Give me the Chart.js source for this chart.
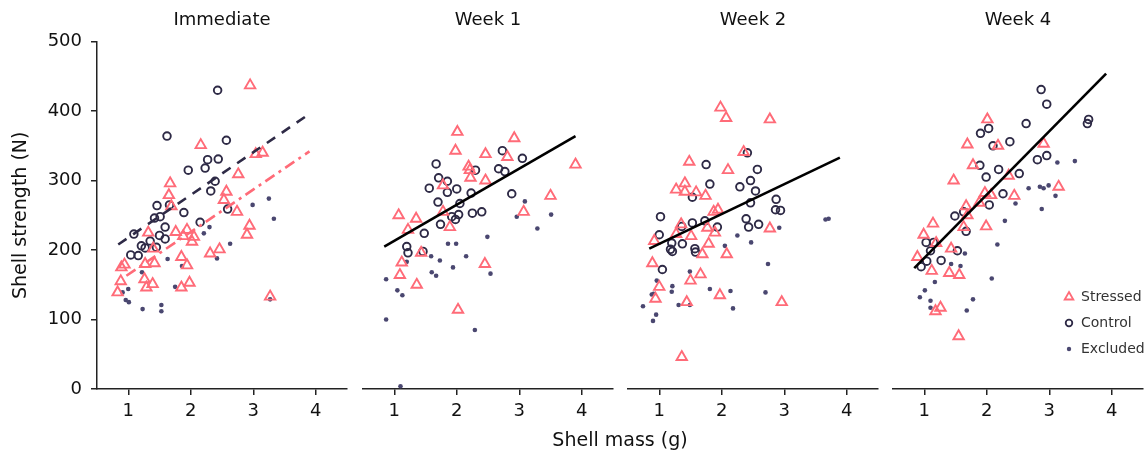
<!DOCTYPE html>
<html>
<head>
<meta charset="utf-8">
<script src="https://cdn.jsdelivr.net/npm/chart.js@4/dist/chart.umd.min.js"></script>
<style>
body{margin:0;background:#fff;width:1147px;height:457px;position:relative;overflow:hidden;font-family:'DejaVu Sans',sans-serif}
canvas{position:absolute;top:0}
#xtitle{position:absolute;left:97px;width:1046px;top:428px;text-align:center;font-size:19px;color:#111}
</style>
</head>
<body>
<canvas id="p1" width="350" height="457" style="left:0px"></canvas>
<canvas id="p2" width="256" height="457" style="left:360px"></canvas>
<canvas id="p3" width="256" height="457" style="left:625px"></canvas>
<canvas id="p4" width="256" height="457" style="left:890px"></canvas>
<div id="xtitle">Shell mass (g)</div>
<script>
// data: [shell mass (g), shell strength (N)]
const panelTitles = ['Immediate', 'Week 1', 'Week 2', 'Week 4'];
const seriesNames = ['Stressed', 'Control', 'Excluded'];
const xTicks = [1, 2, 3, 4];
const yTicks = [0, 100, 200, 300, 400, 500];

const immStressed = [[0.83,139],[0.88,155],[0.89,175],[0.94,179],[1.26,158],[1.27,180],[1.29,146],[1.32,225],[1.39,151],[1.40,202],[1.42,181],[1.65,279],[1.67,296],[1.69,263],[1.76,226],[1.85,190],[1.85,146],[1.88,220],[1.94,229],[1.94,178],[1.98,153],[2.02,212],[2.05,219],[2.16,351],[2.31,195],[2.46,201],[2.53,272],[2.57,284],[2.74,255],[2.76,309],[2.90,222],[2.94,235],[2.95,437],[3.04,338],[3.15,340],[3.27,133]];
const immControl = [[1.04,193],[1.09,223],[1.16,192],[1.21,206],[1.27,203],[1.35,213],[1.42,246],[1.45,204],[1.46,264],[1.50,221],[1.51,248],[1.59,233],[1.59,216],[1.62,364],[1.66,265],[1.89,254],[1.96,315],[2.15,240],[2.23,318],[2.27,330],[2.32,285],[2.39,299],[2.43,430],[2.44,331],[2.57,358],[2.59,259]];
const immExcluded = [[0.91,139],[0.96,128],[1.00,144],[1.01,125],[1.22,168],[1.23,115],[1.53,121],[1.53,112],[1.63,187],[1.75,147],[1.86,177],[2.21,224],[2.30,233],[2.42,188],[2.63,209],[2.99,265],[3.25,274],[3.27,129],[3.33,245]];
const immControlFit = [[0.84,208],[3.90,396]];
const immStressedFit = [[0.97,163],[3.90,342]];

const w1Stressed = [[1.07,250],[1.09,164],[1.12,182],[1.22,229],[1.35,245],[1.36,150],[1.43,196],[1.78,293],[1.78,255],[1.89,233],[1.98,343],[2.01,370],[2.02,114],[2.19,320],[2.21,315],[2.22,304],[2.45,180],[2.46,338],[2.46,300],[2.81,334],[2.92,361],[3.07,255],[3.50,278],[3.90,323]];
const w1Control = [[1.20,205],[1.22,196],[1.46,198],[1.48,224],[1.56,289],[1.67,324],[1.70,269],[1.71,304],[1.74,237],[1.85,299],[1.85,283],[1.92,248],[1.98,244],[2.00,288],[2.03,251],[2.05,267],[2.23,282],[2.25,253],[2.30,315],[2.40,255],[2.67,317],[2.73,343],[2.77,313],[2.88,281],[3.05,332]];
const w1Excluded = [[0.87,158],[0.87,100],[1.05,142],[1.10,4],[1.13,135],[1.20,183],[1.59,191],[1.60,168],[1.67,163],[1.73,185],[1.86,209],[1.94,175],[1.99,209],[2.15,191],[2.29,85],[2.49,219],[2.54,166],[2.96,248],[3.09,270],[3.29,231],[3.51,251]];
const w1Fit = [[0.84,205],[3.90,364]];

const w2Stressed = [[0.89,181],[0.92,213],[0.94,130],[1.00,147],[1.27,287],[1.27,223],[1.35,237],[1.36,46],[1.41,296],[1.41,284],[1.44,125],[1.48,327],[1.50,156],[1.51,220],[1.59,283],[1.66,165],[1.69,194],[1.74,278],[1.77,232],[1.79,209],[1.87,255],[1.89,225],[1.94,258],[1.97,135],[1.98,405],[2.07,390],[2.08,194],[2.10,315],[2.35,341],[2.77,388],[2.77,231],[2.96,125]];
const w2Control = [[1.00,222],[1.02,248],[1.05,172],[1.18,201],[1.20,210],[1.21,198],[1.36,234],[1.37,209],[1.53,276],[1.53,239],[1.57,202],[1.58,197],[1.73,242],[1.75,323],[1.81,295],[1.93,233],[2.29,291],[2.39,245],[2.41,340],[2.43,233],[2.46,300],[2.46,268],[2.54,285],[2.57,316],[2.59,237],[2.86,258],[2.87,273],[2.94,257]];
const w2Excluded = [[0.74,119],[0.88,136],[0.90,98],[0.91,137],[0.95,107],[0.96,156],[1.20,140],[1.21,148],[1.31,121],[1.49,169],[1.49,121],[1.81,144],[2.05,206],[2.14,141],[2.18,116],[2.25,221],[2.47,211],[2.70,139],[2.74,180],[2.92,232],[3.66,244],[3.71,245]];
const w2Fit = [[0.84,202],[3.89,333]];

const w4Stressed = [[0.89,190],[0.99,222],[1.12,170],[1.14,238],[1.18,112],[1.19,210],[1.26,117],[1.40,167],[1.43,202],[1.47,300],[1.55,76],[1.56,164],[1.63,233],[1.67,263],[1.69,250],[1.69,352],[1.78,322],[1.88,268],[1.97,282],[1.99,234],[2.01,388],[2.07,279],[2.18,350],[2.35,307],[2.44,278],[2.91,353],[3.15,291]];
const w4Control = [[0.95,176],[1.03,211],[1.04,184],[1.10,199],[1.15,211],[1.27,185],[1.49,249],[1.53,199],[1.63,255],[1.67,227],[1.89,322],[1.90,368],[1.99,305],[2.03,375],[2.04,265],[2.10,350],[2.19,316],[2.26,281],[2.37,356],[2.52,310],[2.63,382],[2.81,330],[2.87,431],[2.96,410],[2.96,336],[3.61,382],[3.63,388]];
const w4Excluded = [[0.93,132],[1.01,142],[1.10,127],[1.10,117],[1.17,154],[1.43,180],[1.58,177],[1.65,195],[1.68,113],[1.78,129],[2.08,159],[2.17,208],[2.29,242],[2.46,267],[2.67,289],[2.85,291],[2.88,259],[2.91,289],[2.99,293],[3.10,278],[3.13,326],[3.41,328]];
const w4Fit = [[0.84,174],[3.91,454]];

const PINK = '#ff6b78';
const NAVY = '#2e2a46';
const DOT = '#4a4770';
const FONT = "'DejaVu Sans', sans-serif";

const toXY = arr => arr.map(p => ({x: p[0], y: p[1]}));

function pointSets(stressed, control, excluded) {
  return [
    {label: seriesNames[0], data: toXY(stressed), order: 1, pointStyle: 'triangle', pointRadius: 6,
     borderColor: PINK, backgroundColor: 'rgba(255,255,255,0)', pointBorderWidth: 1.9},
    {label: seriesNames[1], data: toXY(control), order: 2, pointStyle: 'circle', pointRadius: 3.8,
     borderColor: NAVY, backgroundColor: 'rgba(255,255,255,0)', pointBorderWidth: 1.9},
    {label: seriesNames[2], data: toXY(excluded), order: 3, pointStyle: 'circle', pointRadius: 2.3,
     borderColor: DOT, backgroundColor: DOT, pointBorderWidth: 0}
  ];
}

function fitLine(pts, color, dash) {
  return {data: toXY(pts), showLine: true, order: 0, pointRadius: 0, borderColor: color,
          borderWidth: 2.6, borderDash: dash || [], fill: false};
}

// legend drawn in the corner of the last panel
const cornerLegend = {
  id: 'cornerLegend',
  afterDraw(chart) {
    const ctx = chart.ctx, a = chart.chartArea;
    const items = [
      {style: 'triangle', r: 5, bw: 1.8, stroke: PINK, fill: 'rgba(0,0,0,0)'},
      {style: 'circle', r: 3.3, bw: 1.8, stroke: NAVY, fill: 'rgba(0,0,0,0)'},
      {style: 'circle', r: 2.2, bw: 0, stroke: DOT, fill: DOT}
    ];
    ctx.save();
    items.forEach((it, i) => {
      const y = a.bottom - 92 + i * 26;
      ctx.strokeStyle = it.stroke; ctx.fillStyle = it.fill; ctx.lineWidth = it.bw;
      Chart.helpers.drawPoint(ctx, {pointStyle: it.style, radius: it.r, borderWidth: it.bw, rotation: 0}, a.right - 74, y);
      ctx.fillStyle = '#333';
      ctx.font = '14px ' + FONT;
      ctx.textBaseline = 'middle';
      ctx.textAlign = 'left';
      ctx.fillText(seriesNames[i], a.right - 62, y);
    });
    ctx.restore();
  }
};

function makePanel(id, title, datasets, first, extraPlugins) {
  new Chart(document.getElementById(id), {
    type: 'scatter',
    data: {datasets: datasets},
    plugins: extraPlugins || [],
    options: {
      responsive: false,
      animation: false,
      events: [],
      layout: {autoPadding: false, padding: {left: first ? 0 : 3, right: 3, top: 0, bottom: 0}},
      plugins: {
        legend: {display: false},
        tooltip: {enabled: false},
        title: {display: true, text: title, fullSize: false, color: '#111',
                font: {family: FONT, size: 18, weight: 'normal'}, padding: {top: 10, bottom: 10}}
      },
      scales: {
        x: {
          type: 'linear', min: 0.5, max: 4.5,
          afterBuildTicks: s => { s.ticks = xTicks.map(v => ({value: v})); },
          afterFit: s => { s.height = 68; },
          grid: {drawOnChartArea: false, drawTicks: true, tickLength: 6, color: '#222', lineWidth: 1.5},
          border: {display: true, color: '#222', width: 1.5},
          ticks: {color: '#111', font: {family: FONT, size: 18}, padding: 6, maxRotation: 0}
        },
        y: {
          type: 'linear', min: 0, max: 500, display: first,
          afterBuildTicks: s => { s.ticks = yTicks.map(v => ({value: v})); },
          afterFit: s => { if (first) s.width = 97; },
          grid: {drawOnChartArea: false, drawTicks: true, tickLength: 6, color: '#222', lineWidth: 1.5},
          border: {display: true, color: '#222', width: 1.5},
          ticks: {color: '#111', font: {family: FONT, size: 18}, padding: 9},
          title: {display: true, text: 'Shell strength (N)', color: '#111',
                  font: {family: FONT, size: 19}, padding: {top: 10, bottom: 0}}
        }
      }
    }
  });
}

makePanel('p1', panelTitles[0],
  [fitLine(immControlFit, NAVY, [10, 8]), fitLine(immStressedFit, PINK, [11, 5, 3, 5])]
    .concat(pointSets(immStressed, immControl, immExcluded)), true);
makePanel('p2', panelTitles[1], [fitLine(w1Fit, '#000')].concat(pointSets(w1Stressed, w1Control, w1Excluded)), false);
makePanel('p3', panelTitles[2], [fitLine(w2Fit, '#000')].concat(pointSets(w2Stressed, w2Control, w2Excluded)), false);
makePanel('p4', panelTitles[3], [fitLine(w4Fit, '#000')].concat(pointSets(w4Stressed, w4Control, w4Excluded)), false, [cornerLegend]);
</script>
</body>
</html>
